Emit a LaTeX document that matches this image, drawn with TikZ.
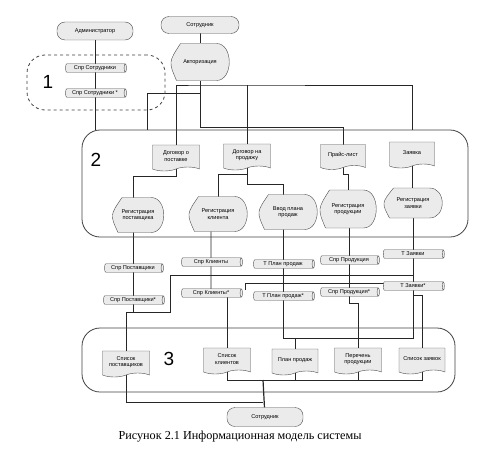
\documentclass[tikz,border=0pt]{standalone}
\usepackage{fontspec}
\setmainfont{Liberation Serif}
\setsansfont{Liberation Sans}
\usetikzlibrary{shapes.geometric,shapes.symbols,backgrounds}

\begin{document}
\begin{tikzpicture}[x=1pt,y=-1pt,
  every node/.style={font=\sffamily\fontsize{5.6}{6.4}\selectfont, align=center, outer sep=0pt},
  term/.style={draw=black!70, fill=black!8, rounded corners=8pt, minimum width=76pt, minimum height=18pt, inner sep=1pt},
  baza/.style={cylinder, draw=black!70, fill=black!8, aspect=0.4, minimum height=61pt, minimum width=8.5pt, inner sep=0.5pt},
  docum/.style={tape, tape bend top=none, tape bend height=4pt, draw=black!70, fill=black!8, minimum width=47pt, minimum height=26pt, inner sep=1pt},
  proc/.style={minimum width=56pt, minimum height=35pt, inner sep=1pt},
  procline/.style={draw=black!70, fill=black!8},
  grp/.style={draw=black!75, rounded corners=18pt, line width=0.8pt, inner sep=0pt},
  biglab/.style={font=\sffamily\fontsize{19}{19}\selectfont},
  conn/.style={draw=black!85, line width=0.6pt}]

\useasboundingbox (0,0) rectangle (478,460);

% Внешние сущности
\node[term] (adm) at (95,31) {Администратор};
\node[term, minimum width=78pt, minimum height=17pt] (sotr1) at (200,25) {Сотрудник};
\node[term, minimum height=19pt] (sotr2) at (265,417) {Сотрудник};

% Группы 1, 2, 3
\node[grp, dashed, minimum width=138pt, minimum height=55pt] (box1) at (96,82.5) {};
\node[grp, minimum width=386pt, minimum height=107pt] (box2) at (275,183.5) {};
\node[grp, minimum width=373pt, minimum height=64pt] (box3) at (268.5,360) {};
\node[biglab] (l1) at (48,82) {1};
\node[biglab] (l2) at (96,160) {2};
\node[biglab] (l3) at (169,359) {3};

% Процессы
\node[proc, minimum width=57pt, minimum height=37pt] (avt) at (200,62) {Авторизация};
\node[proc, minimum width=50pt] (regP) at (138,215) {Регистрация\\поставщика};
\node[proc, minimum width=57pt] (regK) at (218,214) {Регистрация\\клиента};
\node[proc, minimum width=57pt] (vvod) at (288,212) {Ввод плана\\продаж};
\node[proc, minimum width=55pt, minimum height=38pt] (regPr) at (348,209) {Регистрация\\продукции};
\node[proc, minimum width=57pt, minimum height=30pt] (regZ) at (413,203) {Регистрация\\заявки};

% Входные документы
\node[docum] (dogP) at (176,156) {Договор о\\поставке};
\node[docum] (dogS) at (247,155) {Договор на\\продажу};
\node[docum, minimum width=45pt, minimum height=25pt] (price) at (343,155) {Прайс-лист};
\node[docum, minimum width=45pt] (zayav) at (412,153) {Заявка};

% Хранилища
\node[baza] (sprS) at (95,68) {Спр Сотрудники};
\node[baza] (sprS2) at (95,93) {Спр Сотрудники *};
\node[baza, minimum height=59pt] (sprP) at (133,268) {Спр Поставщики};
\node[baza] (sprP2) at (133,300) {Спр Поставщики*};
\node[baza] (sprK) at (211,262) {Спр Клиенты};
\node[baza] (sprK2) at (211,293) {Спр Клиенты*};
\node[baza] (tpl) at (283,264) {Т План продаж};
\node[baza] (tpl2) at (283,296) {Т План продаж*};
\node[baza, minimum height=59pt] (sprPr) at (349,260) {Спр Продукция};
\node[baza, minimum height=59pt] (sprPr2) at (349,292) {Спр Продукция*};
\node[baza] (tz) at (413,254) {Т Заявки};
\node[baza] (tz2) at (413,286) {Т Заявки*};

% Выходные документы
\node[docum] (lpost) at (126,362) {Список\\поставщиков};
\node[docum] (lkl) at (227,359) {Список\\клиентов};
\node[docum, minimum width=46pt] (plan) at (295,360) {План продаж};
\node[docum] (perech) at (358,359) {Перечень\\продукции};
\node[docum, minimum width=46pt] (lzay) at (422,359) {Список заявок};

% Подпись
\node[font=\rmfamily\fontsize{12.2}{14}\selectfont] (cap) at (240,437) {Рисунок 2.1 Информационная модель системы};

\begin{scope}[on background layer]
% точки ветвления
\coordinate (a1) at (200,85);
\coordinate (a2) at (200,93);
\coordinate (in2) at (147,130);
\coordinate (p1) at (133,312);
\coordinate (p2) at (170,312);
\coordinate (bus1) at (413,275);
\coordinate (bus2) at (245,283);
\coordinate (k1) at (349,303);
\coordinate (b3l) at (283,338);
\coordinate (b3r) at (413,338);
\coordinate (b4) at (263,380);
\coordinate (b5) at (263,402);

% верх
\draw[conn] (adm) -- (adm |- box2.north);
\draw[conn] (sotr1) -- (avt);
\draw[conn] (avt) -- (200,127) -| (price.north);
\draw[conn] (dogP.north) |- (a1) -| (zayav |- box2.north);
\draw[conn] (dogS.north) -- (dogS |- a1);
\draw[conn] (a2) -| (in2);

% внутри группы 2
\draw[conn] (dogP.south) -- ++(0,9) -| ([xshift=-5pt]regP.north);
\draw[conn] (dogS.south) -- ++(0,8) -| (regK.north);
\draw[conn] (dogS.south) -- ++(0,18) -| ([xshift=-5pt]vvod.north);
\draw[conn] (price.south) -- ++(0,9) -| (regPr.north);
\draw[conn] (zayav) -- (regZ.center -| zayav);

% хранилища
\draw[conn] (regP.center -| p1) -- (p1);
\draw[conn] (lpost.north) |- (p2) |- (bus1);
\draw[conn] (regK.center -| sprK) -- (sprK2);
\draw[conn] ([xshift=16pt]sprK2.center) -- (lkl.north);
\draw[conn] (bus2) -- ++(0,7);
\draw[conn] (bus2) -- (bus2 -| bus1);
\draw[conn] (vvod.center -| tpl) -- (b3l) -- (b3r) -- (regZ.center -| b3r);
\draw[conn] (plan.north) -- (plan |- b3l);
\draw[conn] (regPr.center -| sprPr) -- (k1) -| (perech.north);
\draw[conn] (tz2.center) -- ++(0,9) -| (lzay.north);

% группа 3
\draw[conn] (lkl.south) |- (lzay.south |- b4) -- (lzay.south);
\draw[conn] (plan.south) -- (plan |- b4);
\draw[conn] (perech.south) -- (perech |- b4);
\draw[conn, line width=1.2pt] (b4) -- (sotr2);
\draw[conn] (lpost.south) |- (b5);

% контуры процессов
\foreach \n in {avt,regP,regK,vvod,regPr,regZ}
  \draw[procline] ([xshift=5pt]\n.south west) .. controls ([xshift=-3pt]\n.west) .. ([xshift=9pt]\n.north west)
    -- ([xshift=-12pt]\n.north east) .. controls ([xshift=5pt]\n.north east) and ([xshift=5pt]\n.south east) .. ([xshift=-12pt]\n.south east) -- cycle;
\end{scope}

\end{tikzpicture}
\end{document}
